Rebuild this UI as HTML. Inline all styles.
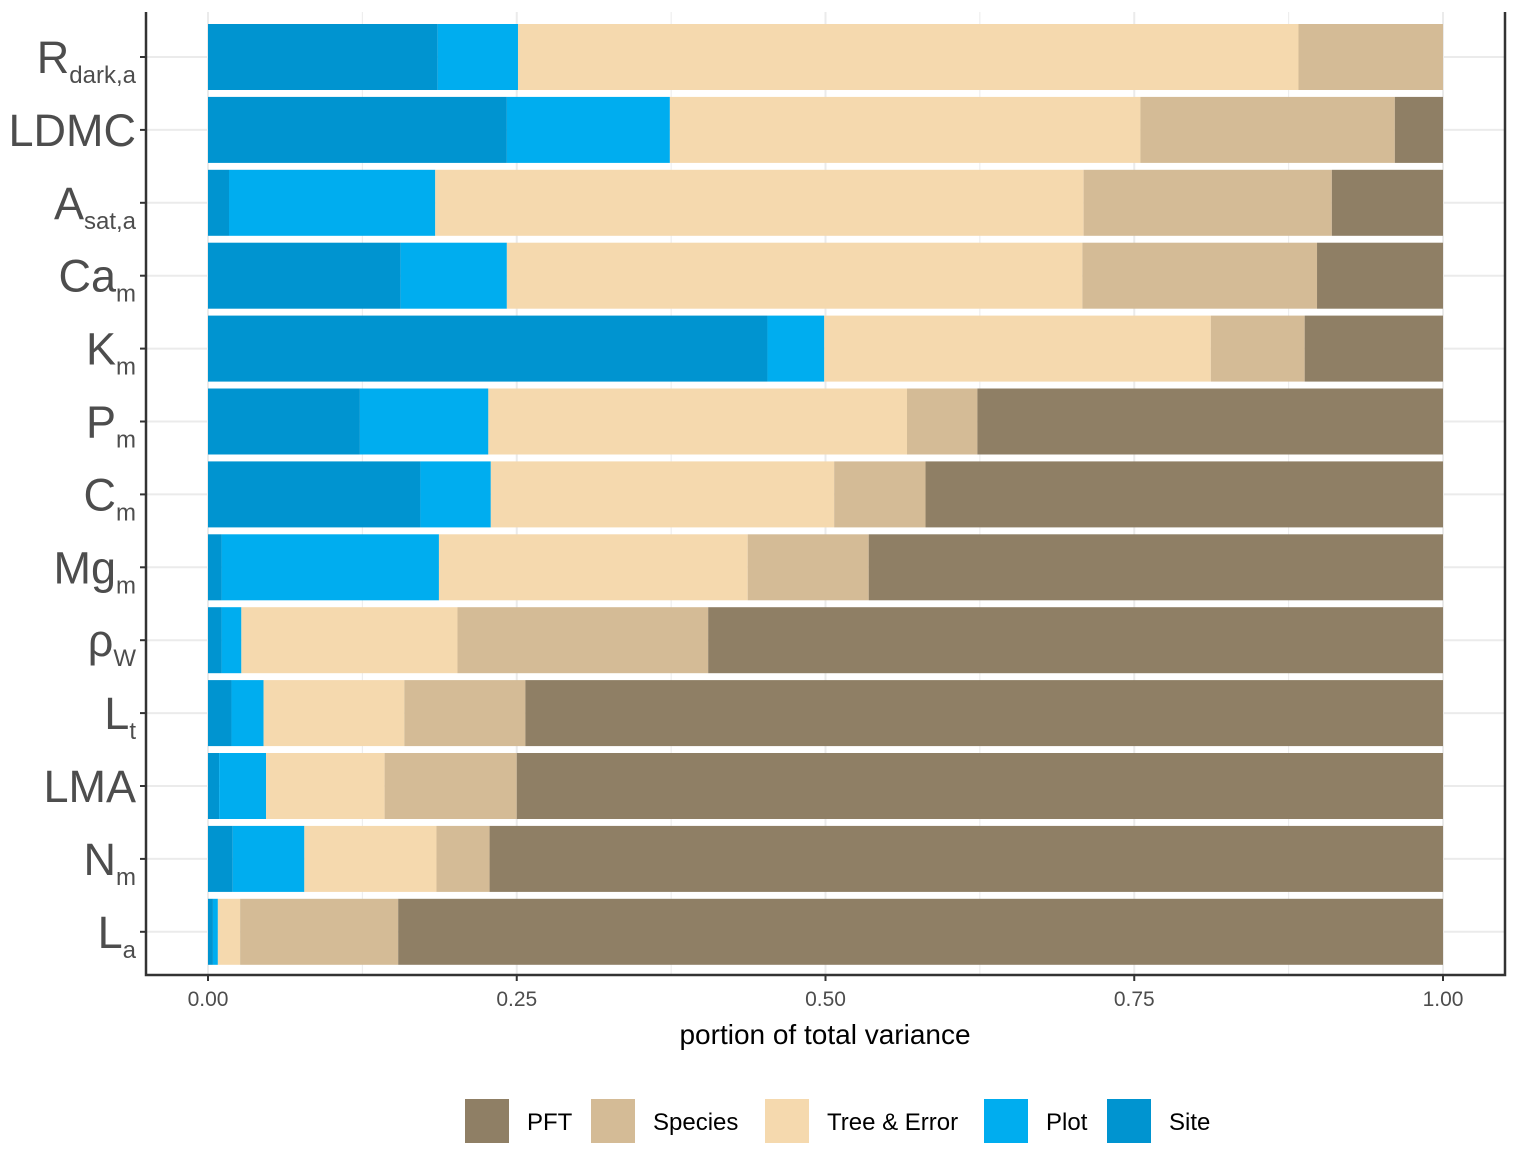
<!DOCTYPE html>
<html><head><meta charset="utf-8"><style>body{margin:0;background:#fff}svg{display:block;font-family:"Liberation Sans",sans-serif}</style></head>
<body>
<svg id="c" width="1519" height="1158"></svg>
<script>
const traits=[["R","dark,a"],["LDMC",""],["A","sat,a"],["Ca","m"],["K","m"],["P","m"],["C","m"],["Mg","m"],["ρ","W"],["L","t"],["LMA",""],["N","m"],["L","a"]];
const site=[0.186,0.242,0.017,0.156,0.453,0.123,0.172,0.011,0.011,0.019,0.009,0.020,0.004];
const plot=[0.065,0.132,0.167,0.086,0.046,0.104,0.057,0.176,0.016,0.026,0.038,0.058,0.004];
const tree=[0.632,0.381,0.525,0.466,0.313,0.339,0.278,0.250,0.175,0.114,0.096,0.107,0.018];
const species=[0.117,0.206,0.201,0.190,0.076,0.057,0.074,0.098,0.203,0.098,0.107,0.043,0.128];
const pft=[0,0.039,0.090,0.102,0.112,0.377,0.419,0.465,0.595,0.743,0.750,0.772,0.846];
const xticks=[0,0.25,0.5,0.75,1];
const xtickLabels=["0.00","0.25","0.50","0.75","1.00"];
const series=[["site",site,"#0094d0"],["plot",plot,"#00adef"],["tree-error",tree,"#f5d9ae"],["species",species,"#d4bb96"],["pft",pft,"#8f7f65"]];
const NS="http://www.w3.org/2000/svg",svg=document.getElementById("c");
const X=v=>208+v*1235, Y=i=>57+i*72.9, BH=66;
function mk(t,a,p){const e=document.createElementNS(NS,t);for(const k in a)e.setAttribute(k,a[k]);(p||svg).appendChild(e);return e;}
for(let v=0;v<=1.0001;v+=0.125){const g=mk("line",{x1:X(v),x2:X(v),y1:12,y2:975,stroke:"#ebebeb","stroke-width":Math.round(v*8)%2?1:2});

}
traits.forEach((t,i)=>{const g=mk("line",{x1:146,x2:1505,y1:Y(i),y2:Y(i),stroke:"#ebebeb","stroke-width":2});

});
traits.forEach((t,i)=>{let c=0;series.forEach(s=>{const v=s[1][i];if(v>0){const r=mk("rect",{x:X(c),y:Y(i)-BH/2,width:X(c+v)-X(c),height:BH,fill:s[2]});

}c+=v;});
const tk=mk("line",{x1:140,x2:146,y1:Y(i),y2:Y(i),stroke:"#333","stroke-width":2});


const tx=mk("text",{x:136,y:Y(i)+16,"text-anchor":"end",fill:"#4d4d4d","font-size":45});


const a=document.createElementNS(NS,"tspan");a.textContent=t[0];tx.appendChild(a);
if(t[1]){const b=document.createElementNS(NS,"tspan");b.setAttribute("font-size","24");b.setAttribute("dy","10");b.textContent=t[1];tx.appendChild(b);}});
xticks.forEach((v,i)=>{const tk=mk("line",{x1:X(v),x2:X(v),y1:975,y2:981,stroke:"#333","stroke-width":2});


const t=mk("text",{x:X(v),y:1006,"text-anchor":"middle",fill:"#4d4d4d","font-size":21});t.textContent=xtickLabels[i];

});
const fr=mk("path",{d:"M146 12V975H1505V12",fill:"none",stroke:"#333","stroke-width":2.5});


const xt=mk("text",{x:825,y:1044,"text-anchor":"middle","font-size":28,fill:"#000"});xt.textContent="portion of total variance";


const leg=[["PFT","#8f7f65",465],["Species","#d4bb96",591],["Tree & Error","#f5d9ae",765],["Plot","#00adef",984],["Site","#0094d0",1107]];
leg.forEach(l=>{const r=mk("rect",{x:l[2],y:1099,width:44,height:44,fill:l[1]});


const t=mk("text",{x:l[2]+62,y:1130,"font-size":24,fill:"#000"});t.textContent=l[0];

});
</script>
</body></html>
